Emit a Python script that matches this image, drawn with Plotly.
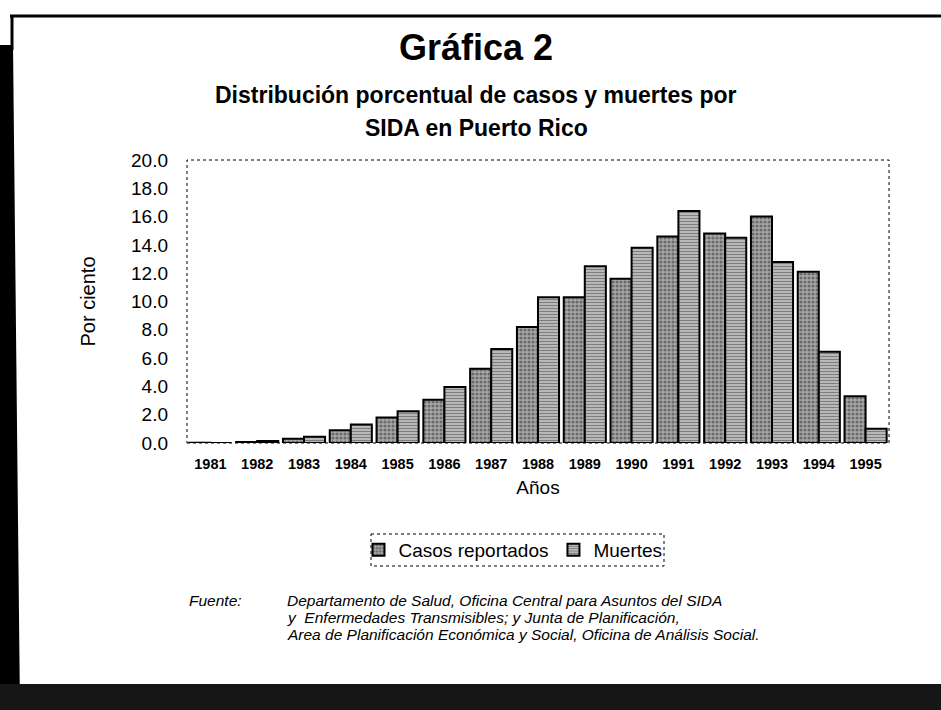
import plotly.graph_objects as go

years = ["1981", "1982", "1983", "1984", "1985", "1986", "1987", "1988",
         "1989", "1990", "1991", "1992", "1993", "1994", "1995"]
casos = [0.02, 0.07, 0.3, 0.9, 1.8, 3.05, 5.25, 8.2, 10.3, 11.6, 14.6, 14.8, 16.0, 12.1, 3.3]
muertes = [0.0, 0.15, 0.45, 1.3, 2.25, 3.95, 6.65, 10.3, 12.5, 13.8, 16.4, 14.5, 12.8, 6.45, 1.0]
y_ticks = [0, 2, 4, 6, 8, 10, 12, 14, 16, 18, 20]
fuente_lines = [
    "Departamento de Salud, Oficina Central para Asuntos del SIDA",
    "y  Enfermedades Transmisibles; y Junta de Planificación,",
    "Area de Planificación Económica y Social, Oficina de Análisis Social.",
]

W, H = 941, 710
L, R, T, B = 187, 889, 160, 443  # plot area in pixels


def px(x):
    return (x - L) / (R - L)


def py(y):
    return (B - y) / (B - T)


FONT = "Liberation Sans, Arial, sans-serif"

fig = go.Figure()
fig.add_trace(go.Bar(
    x=years, y=casos, name="Casos reportados",
    marker=dict(color="#9c9c9c", line=dict(color="black", width=2),
                pattern=dict(shape=".", fgcolor="#2e2e2e", bgcolor="#a8a8a8",
                             size=4, solidity=0.5)),
))
fig.add_trace(go.Bar(
    x=years, y=muertes, name="Muertes",
    marker=dict(color="#b4b4b4", line=dict(color="black", width=2),
                pattern=dict(shape="-", fgcolor="#3e3e3e", bgcolor="#bebebe",
                             size=3, solidity=0.4)),
))

shapes = [
    # dotted plot frame
    dict(type="rect", xref="paper", yref="paper", x0=0, x1=1, y0=0, y1=1,
         line=dict(color="black", width=1, dash="dot"), layer="below"),
    # dotted legend frame
    dict(type="rect", xref="paper", yref="paper", x0=px(371), x1=px(664),
         y0=py(534), y1=py(566), line=dict(color="black", width=1, dash="dot")),
    # page frame: top line
    dict(type="line", xref="paper", yref="paper", x0=px(10), x1=px(941),
         y0=py(16), y1=py(16), line=dict(color="black", width=3)),
    # left vertical line
    dict(type="line", xref="paper", yref="paper", x0=px(12), x1=px(12),
         y0=py(15), y1=py(50), line=dict(color="black", width=3)),
    # left black strip
    dict(type="path", xref="paper", yref="paper",
         path=f"M {px(0)},{py(45)} L {px(13)},{py(45)} L {px(20)},{py(710)} L {px(0)},{py(710)} Z",
         fillcolor="black", line=dict(width=0)),
    # bottom black band
    dict(type="rect", xref="paper", yref="paper", x0=px(0), x1=px(941),
         y0=py(684), y1=py(710), fillcolor="#161616", line=dict(width=0)),
]

annotations = [
    dict(text="<b>Gráfica 2</b>", x=px(476), y=py(47), xref="paper", yref="paper",
         showarrow=False, font=dict(size=36, family=FONT, color="black"),
         xanchor="center", yanchor="middle"),
    dict(text="<b>Distribución porcentual de casos y muertes por</b>", x=px(476), y=py(95),
         xref="paper", yref="paper", showarrow=False,
         font=dict(size=23, family=FONT, color="black"), xanchor="center", yanchor="middle"),
    dict(text="<b>SIDA en Puerto Rico</b>", x=px(476), y=py(128),
         xref="paper", yref="paper", showarrow=False,
         font=dict(size=23, family=FONT, color="black"), xanchor="center", yanchor="middle"),
    dict(text="<i>Fuente:</i>", x=px(187), y=py(600), xref="paper", yref="paper",
         showarrow=False, font=dict(size=15.5, family=FONT, color="black"),
         xanchor="left", yanchor="middle"),
]
for i, line in enumerate(fuente_lines):
    annotations.append(dict(
        text=f"<i>{line}</i>", x=px(285), y=py(600 + 17 * i), xref="paper", yref="paper",
        showarrow=False, font=dict(size=15.5, family=FONT, color="black"),
        xanchor="left", yanchor="middle"))

fig.update_layout(
    width=W, height=H,
    margin=dict(l=L, r=W - R, t=T, b=H - B, autoexpand=False),
    paper_bgcolor="white", plot_bgcolor="white",
    barmode="group", bargap=0.1, bargroupgap=0.0,
    font=dict(family=FONT, color="black"),
    showlegend=True,
    legend=dict(orientation="h", x=px(513), y=py(550), xanchor="center", yanchor="middle",
                font=dict(size=19, family=FONT), bgcolor="rgba(0,0,0,0)",
                itemwidth=30, tracegroupgap=0),
    shapes=shapes,
    annotations=annotations,
)
fig.update_xaxes(
    showgrid=False, showline=False, zeroline=False, ticks="",
    tickfont=dict(size=14.5, family=FONT, color="black", weight="bold"),
    ticklabelstandoff=10,
    title=dict(text="Años", font=dict(size=19, family=FONT), standoff=10),
)
fig.update_yaxes(
    range=[0, 20], tickvals=y_ticks, tickformat=".1f",
    showgrid=False, showline=False, zeroline=False, ticks="",
    tickfont=dict(size=19, family=FONT, color="black"),
    ticklabelstandoff=18,
    title=dict(text="Por ciento", font=dict(size=20, family=FONT), standoff=30),
)

fig.write_html("out.html")
